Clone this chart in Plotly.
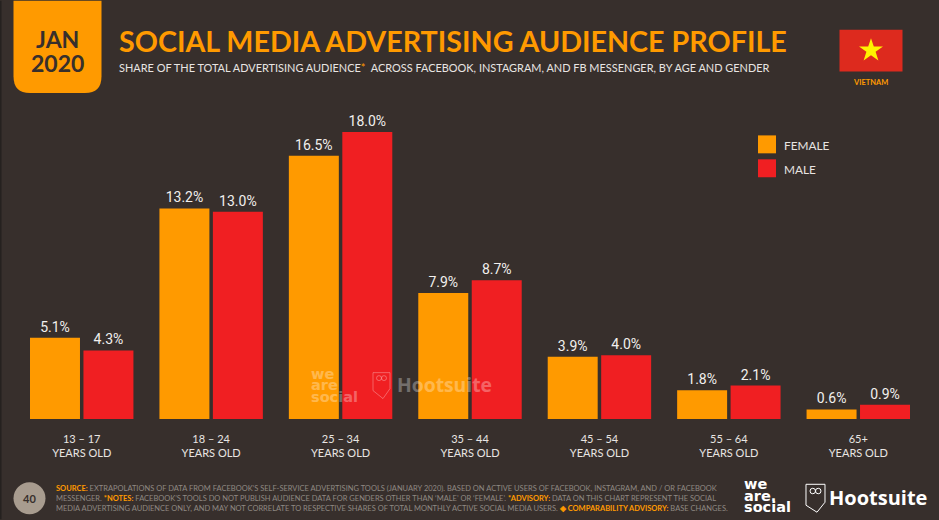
import plotly.graph_objects as go

categories = ["13 – 17<br>YEARS OLD", "18 – 24<br>YEARS OLD", "25 – 34<br>YEARS OLD", "35 – 44<br>YEARS OLD",
              "45 – 54<br>YEARS OLD", "55 – 64<br>YEARS OLD", "65+<br>YEARS OLD"]
female = [5.1, 13.2, 16.5, 7.9, 3.9, 1.8, 0.6]
male = [4.3, 13.0, 18.0, 8.7, 4.0, 2.1, 0.9]

W, H = 939, 520
BG = "#372F2C"
ORANGE = "#FF9A00"
RED = "#F01F22"
LIGHT = "#E8E5E2"
GREY = "#8F8983"
FONT = "Lato"
LOGO = "DejaVu Sans"
L, R, T, B = 17, 16, 99.5, 100.5


def px(x):
    return (x - L) / (W - L - R)


def py(y):
    return 1 - (y - T) / (H - T - B)


def rect(x0, y0, x1, y1, color):
    return dict(type="rect", xref="paper", yref="paper", x0=px(x0), x1=px(x1), y0=py(y0), y1=py(y1),
                fillcolor=color, line_width=0, layer="above")


def path(points, color, line=None, close=True):
    d = "M" + " L".join(f"{px(a):.5f},{py(b):.5f}" for a, b in points) + (" Z" if close else "")
    return dict(type="path", xref="paper", yref="paper", path=d,
                fillcolor=color if close and color else "rgba(0,0,0,0)",
                line=dict(color=line or "rgba(0,0,0,0)", width=1 if line else 0), layer="above")


def circle(x0, y0, x1, y1, fill="rgba(0,0,0,0)", line=None):
    return dict(type="circle", xref="paper", yref="paper", x0=px(x0), x1=px(x1), y0=py(y0), y1=py(y1),
                fillcolor=fill, line=dict(color=line or "rgba(0,0,0,0)", width=1 if line else 0), layer="above")


def text(x, y, s, size, color, anchor="left", bold=False, font=FONT, opacity=1.0):
    return dict(xref="paper", yref="paper", x=px(x), y=py(y), text=f"<b>{s}</b>" if bold else s,
                showarrow=False, xanchor=anchor, yanchor="middle", align=anchor if anchor != "middle" else "center",
                font=dict(family=font, size=size, color=color), opacity=opacity, borderpad=0)


fig = go.Figure()
fig.add_bar(name="FEMALE", x=categories, y=female, marker_color=ORANGE, marker_line_width=0)
fig.add_bar(name="MALE", x=categories, y=male, marker_color=RED, marker_line_width=0)
fig.update_traces(texttemplate="%{y:.1f}%", textposition="outside", cliponaxis=False,
                  textfont=dict(family="Roboto", size=14, color="#F2F0EE"))

box = (
    f"M{px(13.5):.5f},{py(0):.5f} L{px(101.5):.5f},{py(0):.5f} L{px(101.5):.5f},{py(76):.5f} "
    f"Q{px(101.5):.5f},{py(92.5):.5f} {px(85):.5f},{py(92.5):.5f} L{px(30):.5f},{py(92.5):.5f} "
    f"Q{px(13.5):.5f},{py(92.5):.5f} {px(13.5):.5f},{py(76):.5f} Z"
)
WM = "rgba(255,255,255,0.3)"
shapes = [
    rect(0, 0, 1.5, 520, "#25211F"),
    dict(type="path", xref="paper", yref="paper", path=box, fillcolor=ORANGE, line_width=0, layer="above"),
    rect(839.5, 29, 902.5, 71, "#DD2A1E"),
    path([(871, 37.5), (873.8, 45.9), (883, 45.9), (875.6, 51.2), (878.4, 60), (871, 54.6), (863.6, 60),
          (866.4, 51.2), (859, 45.9), (868.2, 45.9)], "#FFF200"),
    rect(758, 135, 776, 153, ORANGE),
    rect(758, 159, 776, 177, RED),
    circle(13.5, 483, 45.5, 515, fill="#A89C8F"),
    # Hootsuite owl, footer
    path([(806, 485), (825, 485), (825, 503), (817, 513), (806, 506), (806, 485)], None, line="#FFFFFF", close=False),
    circle(810, 489, 815.5, 494.5, line="#FFFFFF"),
    circle(815.5, 489, 821, 494.5, line="#FFFFFF"),
    # Hootsuite owl, watermark
    path([(373, 373), (390, 373), (390, 389), (383, 399), (373, 391), (373, 373)], None, line=WM, close=False),
    circle(376.5, 376, 381.5, 381, line=WM),
    circle(381.5, 376, 386.5, 381, line=WM),
]


def hi(s):
    return f"<b><span style='color:{ORANGE}'>{s}</span></b>"


foot = (
    hi("SOURCE:") + " EXTRAPOLATIONS OF DATA FROM FACEBOOK’S SELF-SERVICE ADVERTISING TOOLS (JANUARY 2020). BASED ON ACTIVE USERS OF FACEBOOK, INSTAGRAM, AND / OR FACEBOOK<br>"
    "MESSENGER. " + hi("*NOTES:") + " FACEBOOK’S TOOLS DO NOT PUBLISH AUDIENCE DATA FOR GENDERS OTHER THAN ‘MALE’ OR ‘FEMALE’. " + hi("*ADVISORY:") + " DATA ON THIS CHART REPRESENT THE SOCIAL<br>"
    "MEDIA ADVERTISING AUDIENCE ONLY, AND MAY NOT CORRELATE TO RESPECTIVE SHARES OF TOTAL MONTHLY ACTIVE SOCIAL MEDIA USERS. " + hi("◈ COMPARABILITY ADVISORY:") + " BASE CHANGES."
)

annotations = [
    text(57.5, 38, "JAN", 23, "#372F2C", "center", True),
    text(57.5, 62, "2020", 23, "#372F2C", "center", True),
    text(118, 40, "SOCIAL MEDIA ADVERTISING AUDIENCE PROFILE", 28.7, ORANGE, bold=True),
    text(118, 66.5, f"SHARE OF THE TOTAL ADVERTISING AUDIENCE<span style='color:{ORANGE}'>*</span>  ACROSS FACEBOOK, INSTAGRAM, AND FB MESSENGER, BY AGE AND GENDER", 10.95, LIGHT),
    text(870.5, 82, "VIETNAM", 7.5, ORANGE, "center", True),
    text(783, 145, "FEMALE", 11.8, LIGHT),
    text(783, 169, "MALE", 11.8, LIGHT),
    text(29.5, 499, "40", 11, "#372F2C", "center", True),
    text(54.5, 499, foot, 7.5, GREY),
    text(743, 485, "we", 14.5, "#FFFFFF", bold=True, font=LOGO),
    text(743, 496.5, "are.", 14.5, "#FFFFFF", bold=True, font=LOGO),
    text(743, 508, "social", 14.5, "#FFFFFF", bold=True, font=LOGO),
    text(828, 498, "Hootsuite", 20, "#FFFFFF", bold=True, font="Open Sans"),
    text(310, 374, "we", 14.5, "#FFFFFF", bold=True, font=LOGO, opacity=0.3),
    text(310, 385.5, "are", 14.5, "#FFFFFF", bold=True, font=LOGO, opacity=0.3),
    text(310, 397, "social", 14.5, "#FFFFFF", bold=True, font=LOGO, opacity=0.3),
    text(396, 385, "Hootsuite", 19.3, "#FFFFFF", bold=True, font="Open Sans", opacity=0.3),
]

fig.update_layout(
    width=W, height=H, autosize=False,
    margin=dict(l=L, r=R, t=T, b=B, pad=0),
    paper_bgcolor=BG, plot_bgcolor=BG,
    barmode="group", bargap=0.174, bargroupgap=0.065,
    showlegend=False,
    shapes=shapes, annotations=annotations,
    xaxis=dict(showgrid=False, zeroline=False, showline=False, ticks="", tickangle=0, ticklen=0,
               ticklabelstandoff=12, tickfont=dict(family=FONT, size=11, color=LIGHT)),
    yaxis=dict(range=[0, 20], visible=False, showgrid=False, zeroline=False),
)
fig.write_html("out.html", config={"displayModeBar": False},
               post_script="document.body.style.margin='0';document.body.style.background='" + BG + "';")
